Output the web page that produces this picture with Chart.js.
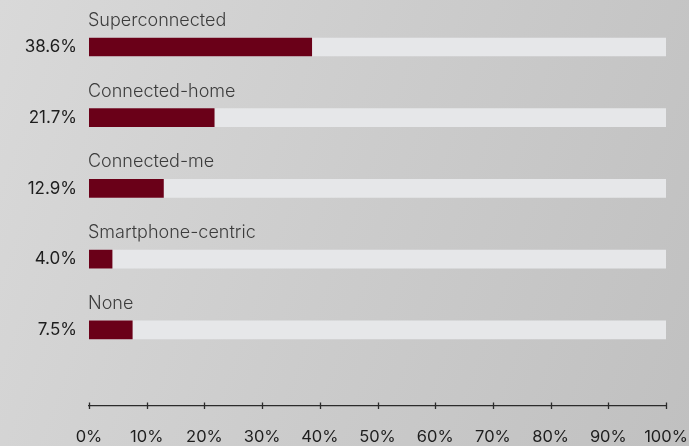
<!DOCTYPE html>
<html>
<head>
<meta charset="utf-8">
<script src="https://cdn.jsdelivr.net/npm/chart.js@4"></script>
<style>
  html, body { margin: 0; padding: 0; }
  body {
    width: 689px; height: 446px; overflow: hidden;
    background: linear-gradient(110deg, #d9d9d9 0%, #cccccc 50%, #c0c0c0 100%);
  }
  #wrap { position: relative; width: 689px; height: 446px; }
</style>
</head>
<body>
<div id="wrap"><canvas id="segChart"></canvas></div>
<script>
// Segment shares (percent of respondents)
const segments = ['Superconnected', 'Connected-home', 'Connected-me', 'Smartphone-centric', 'None'];
const shares = [38.6, 21.7, 12.9, 4.0, 7.5];
const trackValues = [100, 100, 100, 100, 100];
const xTickValues = [0, 10, 20, 30, 40, 50, 60, 70, 80, 90, 100];

const BAR_COLOR = '#6a0018';
const TRACK_COLOR = '#e6e7e9';
const FONT = 'Inter, "Open Sans", sans-serif';

// segment name above each bar + small ticks crossing the x axis line
const barCaptions = {
    id: 'barCaptions',
    afterDraw(chart) {
        const ctx = chart.ctx;
        const x = chart.scales.x, y = chart.scales.y;
        ctx.save();
        ctx.font = '300 18px ' + FONT;
        ctx.fillStyle = '#3c3c3c';
        ctx.textAlign = 'left';
        ctx.textBaseline = 'alphabetic';
        segments.forEach((name, i) => {
            ctx.fillText(name, x.left - 1, y.getPixelForValue(i) - 21);
        });
        ctx.strokeStyle = '#2b2b2b';
        ctx.lineWidth = 1.3;
        const axisY = x.top;
        xTickValues.forEach(v => {
            const px = Math.round(x.getPixelForValue(v)) + 0.5;
            ctx.beginPath();
            ctx.moveTo(px, axisY - 3);
            ctx.lineTo(px, axisY + 3.5);
            ctx.stroke();
        });
        ctx.restore();
    }
};

new Chart(document.getElementById('segChart'), {
    type: 'bar',
    data: {
        datasets: [
            {
                data: shares.map((v, i) => ({ x: v, y: i })),
                backgroundColor: BAR_COLOR,
                barThickness: 18,
                grouped: false,
                order: 1
            },
            {
                data: trackValues.map((v, i) => ({ x: v, y: i })),
                backgroundColor: TRACK_COLOR,
                barThickness: 18,
                grouped: false,
                order: 2
            }
        ]
    },
    options: {
        indexAxis: 'y',
        responsive: true,
        maintainAspectRatio: false,
        animation: false,
        layout: { padding: { top: 11.6, right: 23, bottom: 0, left: 0 } },
        plugins: { legend: { display: false }, tooltip: { enabled: false } },
        scales: {
            x: {
                type: 'linear',
                min: 0,
                max: 100,
                bounds: 'data',
                afterFit(scale) {
                    scale.height = 40.5;
                    scale.paddingLeft = 0;
                    scale.paddingRight = 0;
                },
                afterBuildTicks(scale) { scale.ticks = xTickValues.map(v => ({ value: v })); },
                grid: { display: false, drawTicks: false },
                border: { display: true, color: '#2b2b2b', width: 1.3 },
                ticks: {
                    padding: 22,
                    color: '#1e1e1e',
                    font: { family: FONT, size: 16.5 },
                    maxRotation: 0,
                    callback: v => v + '%'
                }
            },
            y: {
                type: 'linear',
                reverse: true,
                offset: false,
                min: -0.5,
                max: 5.07,
                bounds: 'data',
                afterFit(scale) {
                    scale.width = 89;
                    scale.paddingTop = 0;
                    scale.paddingBottom = 0;
                },
                afterBuildTicks(scale) { scale.ticks = shares.map((_, i) => ({ value: i })); },
                grid: { display: false, drawTicks: false, offset: false },
                border: { display: false },
                ticks: {
                    padding: 12,
                    color: '#1e1e1e',
                    font: { family: FONT, size: 17 },
                    callback: v => shares[v].toFixed(1) + '%'
                }
            }
        }
    },
    plugins: [barCaptions]
});
</script>
</body>
</html>
